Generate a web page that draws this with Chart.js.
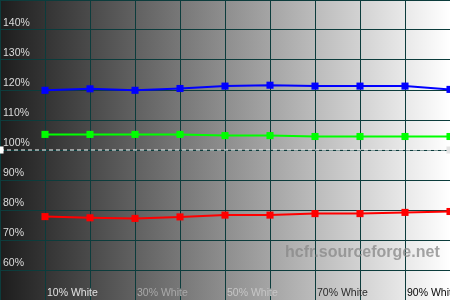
<!DOCTYPE html>
<html>
<head>
<meta charset="utf-8">
<script src="https://cdn.jsdelivr.net/npm/chart.js@4"></script>
<style>
  body { margin: 0; background: #fff; }
  #wrap { width: 450px; height: 300px; position: relative; }
</style>
</head>
<body>
<div id="wrap"><canvas id="chart"></canvas></div>
<script>
const levels = [10, 20, 30, 40, 50, 60, 70, 80, 90, 100];
const redValues = [77.8, 77.4, 77.2, 77.7, 78.3, 78.3, 78.8, 78.8, 79.2, 79.5];
const greenValues = [105.2, 105.2, 105.2, 105.2, 104.8, 104.8, 104.5, 104.5, 104.5, 104.5];
const blueValues = [119.9, 120.4, 119.9, 120.5, 121.3, 121.6, 121.3, 121.3, 121.3, 120.2];
const refLevels = [0, 100];
const refValues = [100, 100];
const xLabelLevels = [10, 30, 50, 70, 90];
const xLabels = ['10% White', '30% White', '50% White', '70% White', '90% White'];
const xLabelColors = ['#e2e2e2', '#a9a9a9', '#c6c6c6', '#2a2a2a', '#050505'];
const gridColor = '#0c3c3c';

function points(xs, ys) {
    return xs.map((x, i) => ({ x: x, y: ys[i] }));
}

function series(label, values, color) {
    return {
        label: label,
        data: points(levels, values),
        borderColor: color,
        backgroundColor: color,
        borderWidth: 2,
        pointStyle: 'rect',
        pointRadius: 5,
        pointBorderWidth: 0,
        tension: 0
    };
}

// no room for the axes: everything is drawn inside the plot
function noSpace(scale) {
    if (scale.isHorizontal()) scale.height = 0;
    else scale.width = 0;
    scale.paddingTop = 0;
    scale.paddingBottom = 0;
    scale.paddingLeft = 0;
    scale.paddingRight = 0;
}

const background = {
    id: 'background',
    beforeDraw(chart) {
        const { ctx, chartArea: a } = chart;
        const g = ctx.createLinearGradient(a.left, 0, a.right, 0);
        g.addColorStop(0, '#1d1d1d');
        g.addColorStop(1, '#ffffff');
        ctx.save();
        ctx.fillStyle = g;
        ctx.fillRect(a.left, a.top, a.right - a.left, a.bottom - a.top);
        ctx.restore();
    }
};

const overlayText = {
    id: 'overlayText',
    beforeDatasetsDraw(chart) {
        const ctx = chart.ctx;
        const x = chart.scales.x;
        ctx.save();
        ctx.font = 'bold 16px "Liberation Sans", Arial, sans-serif';
        ctx.fillStyle = 'rgba(135,135,135,0.75)';
        ctx.textAlign = 'left';
        ctx.textBaseline = 'middle';
        ctx.fillText('hcfr.sourceforge.net', 285, 253);
        ctx.font = '10.5px "Liberation Sans", Arial, sans-serif';
        xLabelLevels.forEach((v, i) => {
            ctx.fillStyle = xLabelColors[i];
            ctx.fillText(xLabels[i], x.getPixelForValue(v) + 2, 293);
        });
        ctx.restore();
    }
};

new Chart(document.getElementById('chart'), {
    type: 'line',
    data: {
        datasets: [
            series('Blue', blueValues, '#0000ff'),
            series('Green', greenValues, '#00ff00'),
            series('Red', redValues, '#ff0000'),
            {
                label: 'Reference',
                data: points(refLevels, refValues),
                borderColor: '#ffffff',
                borderWidth: 1,
                borderDash: [4, 3],
                pointStyle: 'rect',
                pointRadius: 5,
                pointBorderWidth: 0,
                pointBackgroundColor: ['#ffffff', '#e4e4e4']
            }
        ]
    },
    options: {
        responsive: true,
        maintainAspectRatio: false,
        animation: false,
        layout: { padding: 0, autoPadding: false },
        plugins: {
            legend: { display: false },
            tooltip: { enabled: false }
        },
        scales: {
            x: {
                type: 'linear',
                min: 0,
                max: 100,
                afterFit: noSpace,
                border: { display: false },
                grid: { color: gridColor, drawTicks: false },
                ticks: { display: false, stepSize: 10 }
            },
            y: {
                min: 50,
                max: 150,
                afterFit: noSpace,
                border: { display: false },
                grid: { color: gridColor, drawTicks: false },
                ticks: {
                    stepSize: 10,
                    mirror: true,
                    padding: 3,
                    labelOffset: -7,
                    color: '#dcdcdc',
                    font: { size: 10.5, family: '"Liberation Sans", Arial, sans-serif' },
                    callback: v => (v === 50 || v === 150) ? '' : v + '%'
                }
            }
        }
    },
    plugins: [background, overlayText]
});
</script>
</body>
</html>
